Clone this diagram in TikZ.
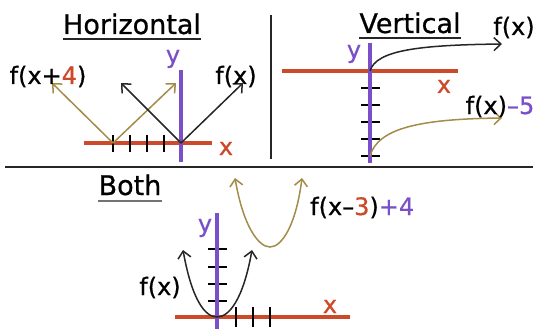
\documentclass[tikz,border=0pt]{standalone}
\usepackage{fontspec}
\setmainfont{DejaVu Sans}[FakeBold=0.7]
\usetikzlibrary{arrows.meta}
\definecolor{axred}{HTML}{CC4A2A}
\definecolor{axpurple}{HTML}{7A50C8}
\definecolor{tanc}{HTML}{A38B48}
\tikzset{
  xaxis/.style={draw=axred, line width=3.2pt},
  yaxis/.style={draw=axpurple, line width=3.2pt},
  tickmark/.style={draw=black, line width=1.4pt},
  fline/.style={line width=1.5pt, -{Straight Barb[length=7pt,width=13pt]}},
  bline/.style={line width=1.5pt, {Straight Barb[length=7pt,width=13pt]}-{Straight Barb[length=7pt,width=13pt]}},
  title/.style={font=\fontsize{27}{27}\selectfont, anchor=base, inner sep=0pt},
  lbl/.style={font=\fontsize{24}{24}\selectfont, anchor=base, inner sep=0pt},
  divider/.style={line width=1.6pt, black!85},
  uline/.style={line width=1.6pt, black!85}
}
\begin{document}
\begin{tikzpicture}[x=1pt,y=-1pt]
\useasboundingbox (0,0) rectangle (539,329);
% dividers
\coordinate (vdt) at (271,15); \coordinate (vdb) at (271,159);
\coordinate (hdl) at (5,167); \coordinate (hdr) at (533,167);
\draw[divider] (vdt) -- (vdb);
\draw[divider] (hdl) -- (hdr);
% titles
\node[title] (th) at (132,34) {Horizontal};
\node[title] (tv) at (410,33) {Vertical};
\node[title] (tb) at (130,195) {Both};
\draw[uline] ([yshift=-5pt]th.base west) -- ([yshift=-5pt]th.base east);
\draw[uline] ([yshift=-5pt]tv.base west) -- ([yshift=-5pt]tv.base east);
\draw[uline, black!55] ([yshift=-6pt]tb.base west) -- ([yshift=-6pt]tb.base east);

% ---------- Horizontal panel ----------
\coordinate (hxl) at (84,143); \coordinate (hxr) at (212,143);
\draw[xaxis] (hxl) -- (hxr);
\foreach \t in {113,130,147,164} \draw[tickmark] (\t,135) -- (\t,152);
\coordinate (hyt) at (181,70); \coordinate (hyb) at (181,162);
\draw[yaxis] (hyt) -- (hyb);
\coordinate (ho4) at (113,143); \coordinate (ho) at (181,143);
\coordinate (h4l) at (52,83); \coordinate (h4r) at (176,83);
\coordinate (h0l) at (121,83); \coordinate (h0r) at (243,83);
\draw[fline, tanc] (ho4) -- (h4l);
\draw[fline, tanc] (ho4) -- (h4r);
\draw[fline, black!85] (ho) -- (h0l);
\draw[fline, black!85] (ho) -- (h0r);
\node[lbl] (lh4) at (48,84) {f(x+\textcolor{axred}{4})};
\node[lbl] (lh0) at (236,84) {f(x)};
\node[lbl, text=axpurple] (hy) at (173,63) {y};
\node[lbl, text=axred] (hx) at (226,155) {x};

% ---------- Vertical panel ----------
\coordinate (vxl) at (282,71); \coordinate (vxr) at (458,71);
\draw[xaxis] (vxl) -- (vxr);
\foreach \t in {88,105,122,139,156} \draw[tickmark] (361,\t) -- (380,\t);
\coordinate (vyt) at (370,43); \coordinate (vyb) at (370,163);
\draw[yaxis] (vyt) -- (vyb);
\coordinate (vo) at (370,71); \coordinate (ve) at (502,44);
\coordinate (vo5) at (370,156); \coordinate (ve5) at (502,118);
\draw[fline, black!85] (vo) .. controls (376,50) and (420,45) .. (ve);
\draw[fline, tanc] (vo5) .. controls (378,128) and (420,119) .. (ve5);
\node[lbl] (lv0) at (514,35) {f(x)};
\node[lbl] (lv5) at (500,114) {f(x)\textcolor{axpurple}{–5}};
\node[lbl, text=axpurple] (vy) at (354,58) {y};
\node[lbl, text=axred] (vx) at (444,93) {x};

% ---------- Both panel ----------
\coordinate (bxl) at (175,317); \coordinate (bxr) at (350,317);
\draw[xaxis] (bxl) -- (bxr);
\foreach \t in {249,267,284,301} \draw[tickmark] (208,\t) -- (227,\t);
\foreach \t in {236,253,270} \draw[tickmark] (\t,307) -- (\t,327);
\coordinate (byt) at (217,213); \coordinate (byb) at (217,330);
\draw[yaxis] (byt) -- (byb);
\coordinate (bpl) at (183,250); \coordinate (bpv) at (217,317); \coordinate (bpr) at (252,250);
\draw[bline, black!85] (bpl) .. controls (192,300) and (205,317) .. (bpv) .. controls (229,317) and (243,300) .. (bpr);
\coordinate (bql) at (235,178); \coordinate (bqv) at (270,247); \coordinate (bqr) at (302,178);
\draw[bline, tanc] (bql) .. controls (243,225) and (258,247) .. (bqv) .. controls (282,247) and (296,225) .. (bqr);
\node[lbl] (lb0) at (160,295) {f(x)};
\node[lbl, anchor=base west] (lb3) at (310,215) {f(x–\textcolor{axred}{3})\textcolor{axpurple}{+4}};
\node[lbl, text=axpurple] (by) at (205,232) {y};
\node[lbl, text=axred] (bx) at (330,313) {x};
\end{tikzpicture}
\end{document}
